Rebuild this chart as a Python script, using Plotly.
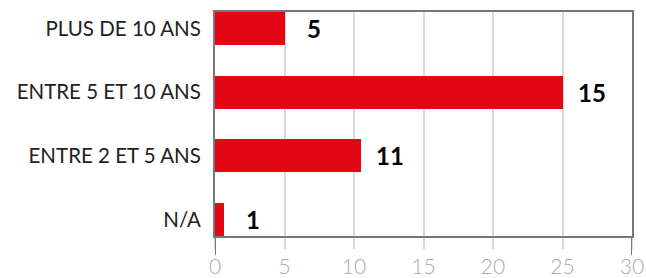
import plotly.graph_objects as go

categories = ["PLUS DE 10 ANS", "ENTRE 5 ET 10 ANS", "ENTRE 2 ET 5 ANS", "N/A"]
bar_values = [5, 25, 10.5, 0.65]
value_labels = ["5", "15", "11", "1"]
x_ticks = [0, 5, 10, 15, 20, 25, 30]

RED = "#e30613"
FONT = "Lato, Roboto, sans-serif"

fig = go.Figure()
fig.add_trace(go.Bar(
    x=bar_values, y=categories, orientation="h",
    marker=dict(color=RED, line=dict(width=0)),
    width=0.52, hoverinfo="skip",
))

for c, v, t in zip(categories, bar_values, value_labels):
    fig.add_annotation(x=v, y=c, text="<b>%s</b>" % t, showarrow=False,
                       xanchor="center", xshift=29,
                       font=dict(family=FONT, size=24, color="#000"))

# frame extensions below the axis at 0 and 30
for xv in (0, 30):
    fig.add_shape(type="line", xref="x", yref="paper", x0=xv, x1=xv, y0=0, y1=-0.085,
                  line=dict(color="#777", width=2))

fig.update_layout(
    width=646, height=278,
    margin=dict(l=215, r=14, t=12, b=42),
    paper_bgcolor="white", plot_bgcolor="white",
    showlegend=False, bargap=0,
    xaxis=dict(range=[0, 30], tickvals=x_ticks, showgrid=True, automargin=False,
               gridcolor="rgba(0,0,0,0.15)", gridwidth=1.5,
               showline=True, linecolor="#777", linewidth=2, mirror=True,
               zeroline=False, ticks="outside", ticklen=11, tickwidth=1.5,
               tickcolor="rgba(0,0,0,0.15)", layer="above traces",
               tickfont=dict(family=FONT, size=21, color="#aaa", weight=300),
               ticklabelstandoff=0),
    yaxis=dict(categoryorder="array", categoryarray=categories[::-1],
               range=[-0.26, 3.26], automargin=False,
               showline=True, linecolor="#777", linewidth=2, mirror=True,
               showgrid=False, zeroline=False, ticks="",
               tickfont=dict(family=FONT, size=20.5, color="#222"),
               ticklabelstandoff=8),
)

fig.write_html("out.html", config={"displayModeBar": False},
               post_script="document.body.style.margin='0px';")
